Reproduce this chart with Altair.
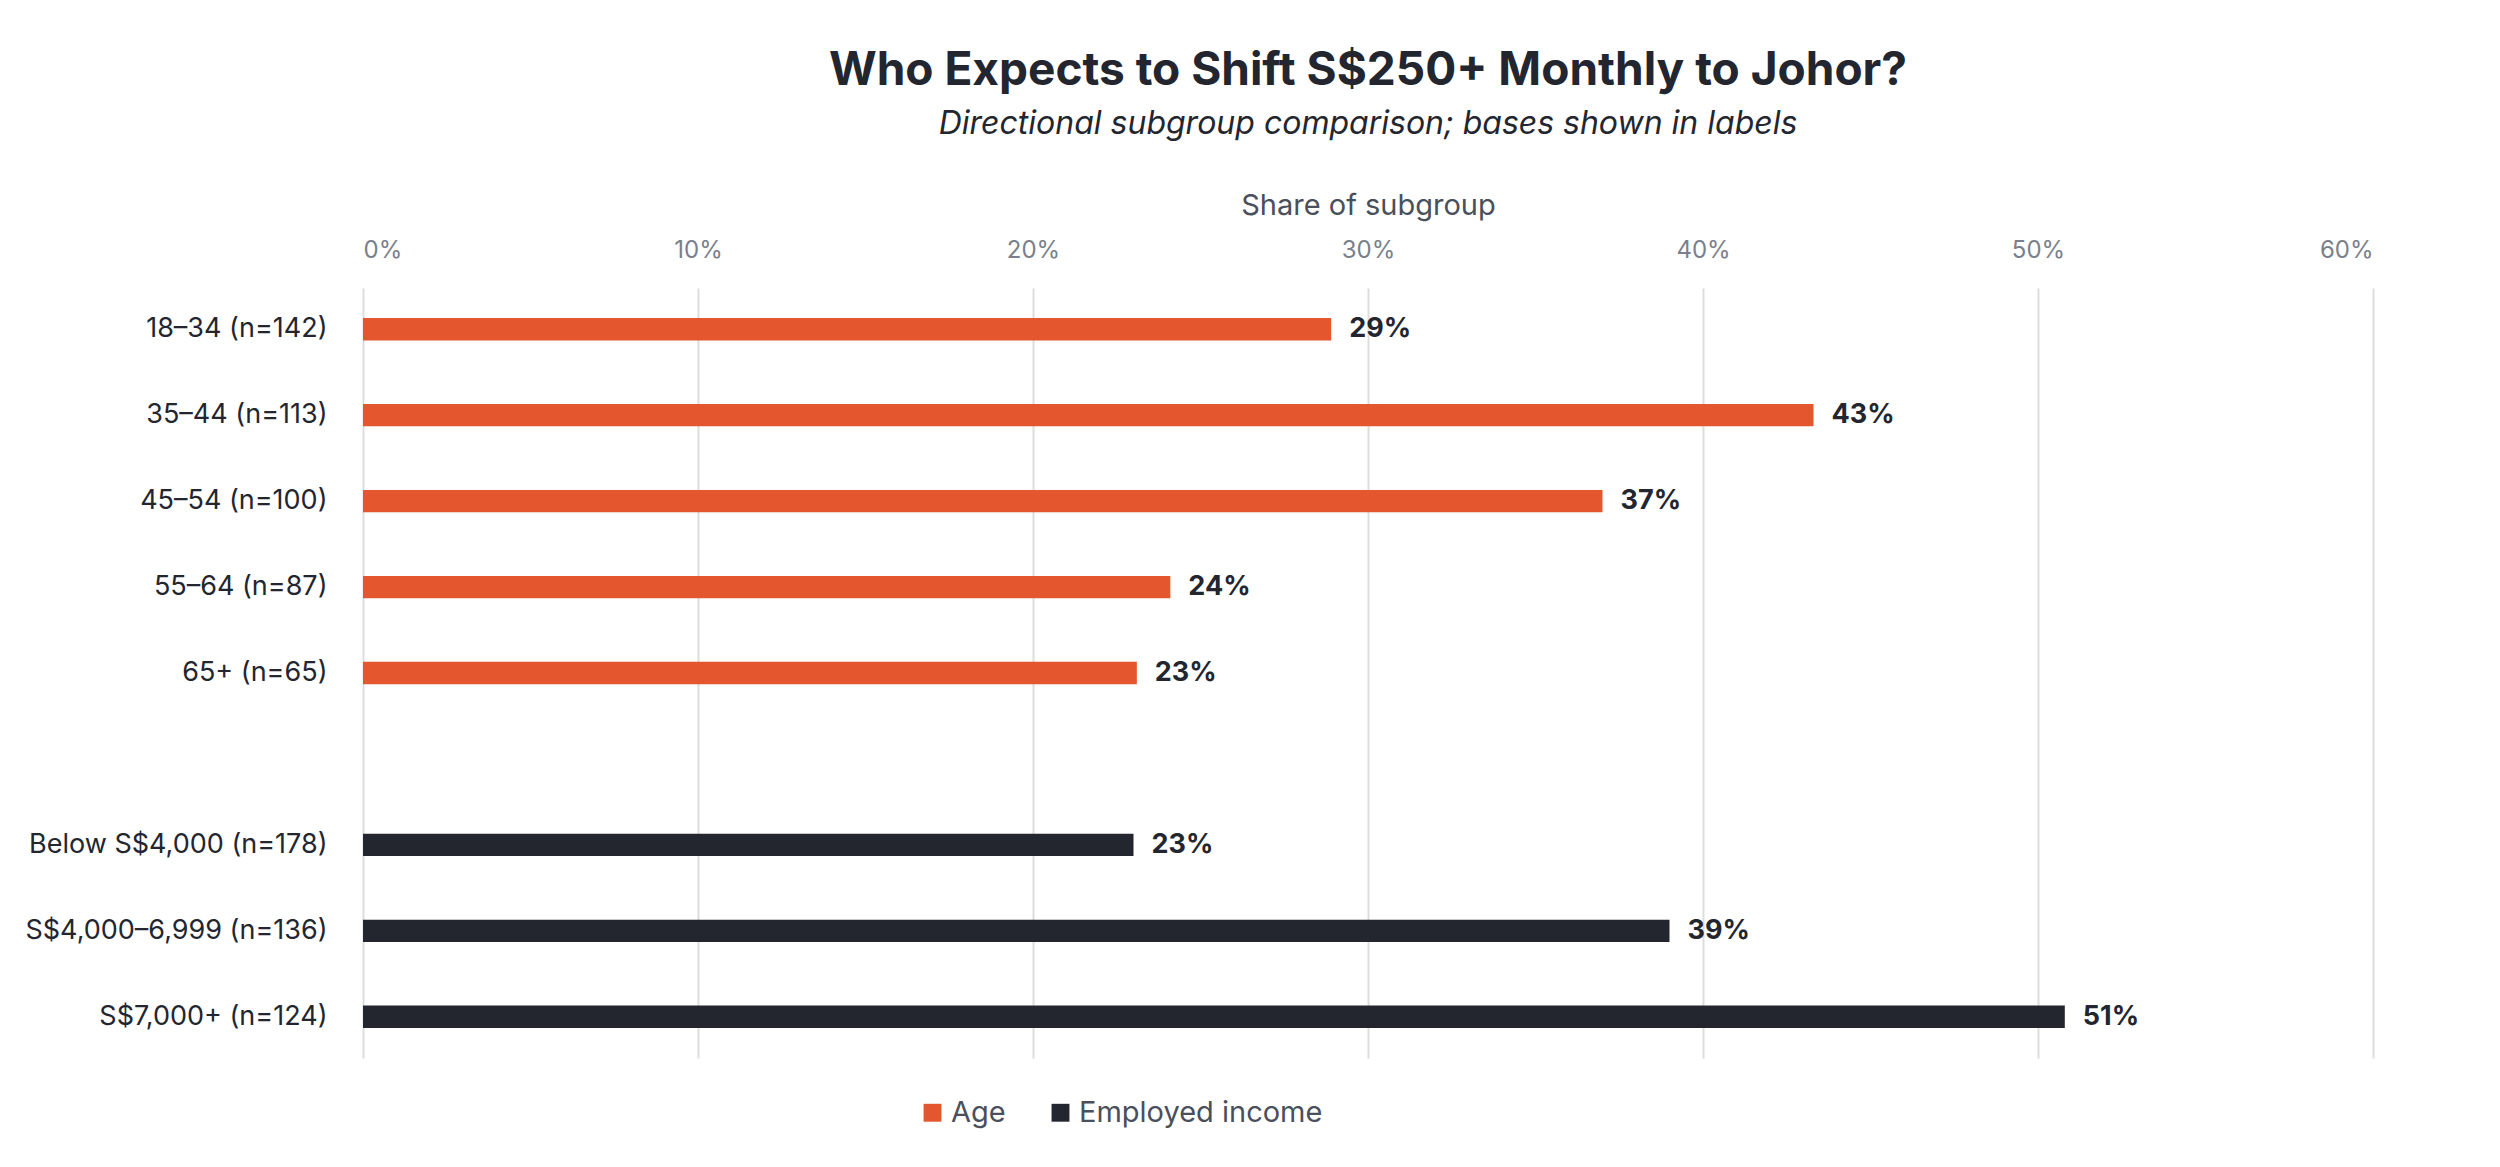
import pandas as pd
import altair as alt

groups = ["18–34 (n=142)", "35–44 (n=113)", "45–54 (n=100)", "55–64 (n=87)", "65+ (n=65)",
          "Below S$4,000 (n=178)", "S$4,000–6,999 (n=136)", "S$7,000+ (n=124)"]
shares = [28.9, 43.3, 37.0, 24.1, 23.1, 23.0, 39.0, 50.8]
labels = ["29%", "43%", "37%", "24%", "23%", "23%", "39%", "51%"]
series = ["Age"] * 5 + ["Employed income"] * 3

data = pd.DataFrame({"group": groups, "share": shares, "label": labels, "series": series})
order = groups[:5] + [" "] + groups[5:]

font = "Inter"
y = alt.Y("group:N", sort=order, scale=alt.Scale(domain=order, paddingInner=0.74, paddingOuter=0.35),
          title=None, axis=alt.Axis(labelFontSize=27, labelColor="#23262F", labelFont=font, labelLimit=0,
                                    ticks=False, domain=False, labelPadding=36))
x = alt.X("share:Q", scale=alt.Scale(domain=[0, 60]), title="Share of subgroup",
          axis=alt.Axis(orient="top", values=[0, 10, 20, 30, 40, 50, 60], labelExpr="datum.value + '%'",
                        labelFontSize=24, labelColor="#7A7F8C", titleFontSize=29, titleColor="#4A4F5C",
                        titleFontWeight="normal", titlePadding=18, labelPadding=26,
                        gridColor="#DDDDDD", gridWidth=2, domain=False, ticks=False,
                        labelFont=font, titleFont=font))

W, H = 2010, 770
bars = alt.Chart(data).mark_bar().encode(
    x=x, y=y,
    color=alt.Color("series:N", scale=alt.Scale(domain=["Age", "Employed income"], range=["#E4572E", "#23262F"]),
                    legend=alt.Legend(orient="none", legendX=W / 2 - 450, legendY=H + 40, direction="horizontal",
                                      title=None, symbolType="square", symbolSize=320, labelLimit=0,
                                      labelFontSize=29, labelColor="#4A4F5C", labelFont=font,
                                      columnPadding=40)),
)
text = alt.Chart(data).mark_text(align="left", dx=18, fontSize=27, fontWeight="bold",
                                 color="#23262F", font=font).encode(x="share:Q", y=alt.Y("group:N", sort=order), text="label:N")

chart = (bars + text).properties(
    width=W, height=H,
    title=alt.TitleParams("Who Expects to Shift S$250+ Monthly to Johor?",
                          subtitle="Directional subgroup comparison; bases shown in labels",
                          fontSize=46, fontWeight="bold", color="#23262F", font=font,
                          subtitleFontSize=32, subtitleFontStyle="italic", subtitleColor="#23262F",
                          subtitleFont=font, subtitlePadding=14, offset=50, anchor="middle"),
    padding={"left": 16, "top": 40, "right": 40, "bottom": 20},
).configure_view(stroke=None)

chart.save("out.html", embed_options={"renderer": "svg", "actions": False})
